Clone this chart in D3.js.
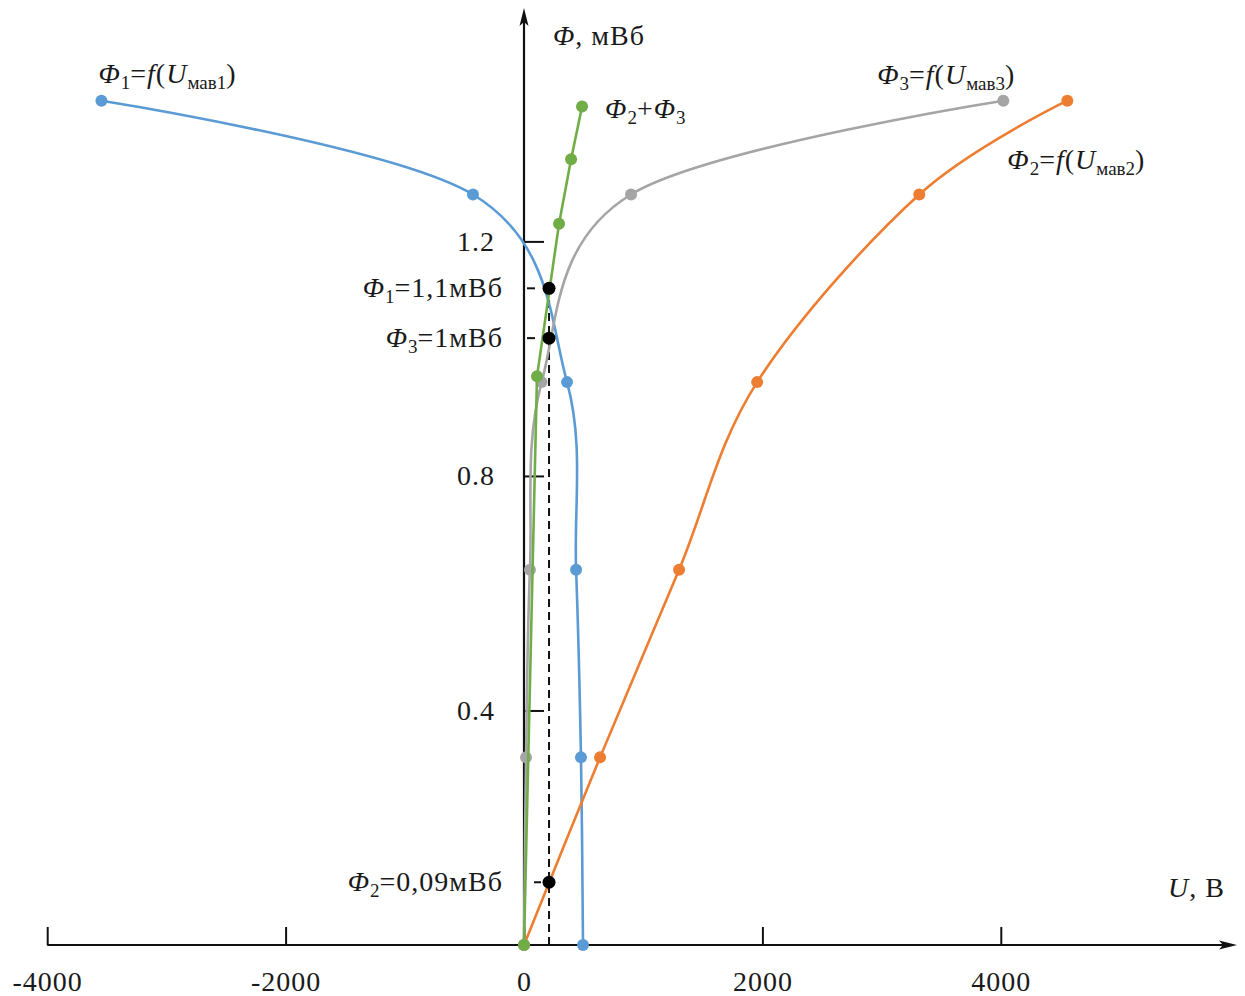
<!DOCTYPE html>
<html>
<head>
<meta charset="utf-8">
<script src="https://cdn.jsdelivr.net/npm/d3@7"></script>
<style>
  body { margin: 0; background: #fff; }
  svg text { font-family: "Liberation Serif", "Times New Roman", serif; fill: #1a1a1a; letter-spacing: 1px; }
</style>
</head>
<body>
<div id="chart"></div>
<script>
// axis ticks
const uTicks = [-4000, -2000, 0, 2000, 4000];
const phiTicks = [0.4, 0.8, 1.2];

// Φ1 = f(Uмав1)
const phi1U = [-3545, -428, 361, 437, 478, 495];
const phi1F = [1.44, 1.28, 0.96, 0.64, 0.32, 0];
// Φ2 = f(Uмав2)
const phi2U = [0, 638, 1301, 1956, 3316, 4558];
const phi2F = [0, 0.32, 0.64, 0.96, 1.28, 1.44];
// Φ3 = f(Uмав3)
const phi3U = [0, 17, 50, 148, 898, 4021];
const phi3F = [0, 0.32, 0.64, 0.96, 1.28, 1.44];
// Φ2 + Φ3
const sumU = [0, 109, 294, 395, 487];
const sumF = [0, 0.97, 1.23, 1.34, 1.43];

// working point
const workU = 210;
const workF = [1.12, 1.035, 0.107];
const workLabels = [
  [["Φ", "i"], ["1", "s"], ["=1,1мВб", ""]],
  [["Φ", "i"], ["3", "s"], ["=1мВб", ""]],
  [["Φ", "i"], ["2", "s"], ["=0,09мВб", ""]]
];

const W = 1245, H = 996;
const FS = 28;
const svg = d3.select("#chart").append("svg")
    .attr("width", W)
    .attr("height", H);

svg.append("rect").attr("width", W).attr("height", H).attr("fill", "#fff");

const x = d3.scaleLinear().domain([-4000, 4000]).range([47.2, 1000.8]);
const y = d3.scaleLinear().domain([0, 1.2]).range([945, 241.4]);

const x0 = x(0), y0 = y(0);

// write a label made of italic / subscript pieces
function richText(px, py, parts, anchor) {
    let t = svg.append("text")
        .attr("x", px)
        .attr("y", py)
        .attr("font-size", FS)
        .attr("text-anchor", anchor || "start");
    let down = false;
    parts.forEach(p => {
        let s = t.append("tspan").text(p[0]);
        if (p[1].includes("i")) s.attr("font-style", "italic");
        if (p[1].includes("s")) {
            s.attr("font-size", 19).style("letter-spacing", "0px");
            if (!down) { s.attr("dy", 6); down = true; }
        } else if (down) {
            s.attr("dy", -6); down = false;
        }
    });
    return t;
}

// axes
svg.append("g")
    .attr("transform", "translate(0," + y0 + ")")
    .call(d3.axisBottom(x).tickValues(uTicks).tickSizeInner(-18).tickSizeOuter(0)
        .tickPadding(26).tickFormat(d => String(d)))
    .call(g => g.select(".domain").remove())
    .call(g => g.selectAll(".tick line").attr("stroke", "#111").attr("stroke-width", 2))
    .call(g => g.selectAll(".tick text").attr("font-size", FS)
        .attr("font-family", "Liberation Serif").attr("fill", "#1a1a1a"));

svg.append("g")
    .attr("transform", "translate(" + x0 + ",0)")
    .call(d3.axisLeft(y).tickValues(phiTicks).tickSizeInner(-20).tickSizeOuter(0)
        .tickPadding(29).tickFormat(d3.format(".1f")))
    .call(g => g.select(".domain").remove())
    .call(g => g.selectAll(".tick line").attr("stroke", "#111").attr("stroke-width", 2))
    .call(g => g.selectAll(".tick text").attr("font-size", FS)
        .attr("font-family", "Liberation Serif").attr("fill", "#1a1a1a"));

// axis lines with arrows
const xEnd = 1237, yTop = 8;
svg.append("line").attr("x1", x(-4000)).attr("x2", xEnd - 10)
    .attr("y1", y0).attr("y2", y0).attr("stroke", "#111").attr("stroke-width", 2.2);
svg.append("path")
    .attr("d", `M${xEnd},${y0} L${xEnd - 18},${y0 - 4.5} L${xEnd - 14},${y0} L${xEnd - 18},${y0 + 4.5} Z`)
    .attr("fill", "#111");
svg.append("line").attr("x1", x0).attr("x2", x0)
    .attr("y1", y0).attr("y2", yTop + 10).attr("stroke", "#111").attr("stroke-width", 2.2);
svg.append("path")
    .attr("d", `M${x0},${yTop} L${x0 - 4.5},${yTop + 18} L${x0},${yTop + 14} L${x0 + 4.5},${yTop + 18} Z`)
    .attr("fill", "#111");

// axis titles
richText(x0 + 29, 45, [["Φ", "i"], [", мВб", ""]]);
richText(1168, 897, [["U", "i"], [", В", ""]]);

// dashed line of the working point
svg.append("line")
    .attr("x1", x(workU)).attr("x2", x(workU))
    .attr("y1", y(0)).attr("y2", y(workF[0]))
    .attr("stroke", "#111").attr("stroke-width", 2)
    .attr("stroke-dasharray", "8,5");

// series
const series = [
    {u: phi1U, f: phi1F, color: "#5B9BD5", curve: d3.curveCatmullRom.alpha(0)},
    {u: phi2U, f: phi2F, color: "#ED7D31", curve: d3.curveCatmullRom.alpha(0)},
    {u: phi3U, f: phi3F, color: "#A5A5A5", curve: d3.curveCatmullRom.alpha(0)},
    {u: sumU, f: sumF, color: "#70AD47", curve: d3.curveLinear}
];

series.forEach(s => {
    const pts = s.u.map((u, i) => [u, s.f[i]]);
    const line = d3.line().x(d => x(d[0])).y(d => y(d[1])).curve(s.curve);
    svg.append("path")
        .datum(pts)
        .attr("d", line)
        .attr("fill", "none")
        .attr("stroke", s.color)
        .attr("stroke-width", 2.6);
    svg.selectAll(null)
        .data(pts)
        .enter()
        .append("circle")
        .attr("cx", d => x(d[0]))
        .attr("cy", d => y(d[1]))
        .attr("r", 6)
        .attr("fill", s.color);
});

// working point marks and labels
workF.forEach((f, i) => {
    svg.append("line")
        .attr("x1", x0 + (i == 2 ? 10 : 3)).attr("x2", x0 + (i == 2 ? 17 : 11))
        .attr("y1", y(f)).attr("y2", y(f))
        .attr("stroke", "#111").attr("stroke-width", 2);
    svg.append("circle")
        .attr("cx", x(workU)).attr("cy", y(f))
        .attr("r", 6.5).attr("fill", "#000");
    richText(x0 - 21, y(f) + 9, workLabels[i], "end");
});

// series labels
richText(x(phi1U[0]) - 3, y(phi1F[0]) - 18,
    [["Φ", "i"], ["1", "s"], ["=", ""], ["f", "i"], ["(", ""], ["U", "i"], ["мав1", "s"], [")", ""]]);
richText(x(phi3U[5]) + 12, y(phi3F[5]) - 17,
    [["Φ", "i"], ["3", "s"], ["=", ""], ["f", "i"], ["(", ""], ["U", "i"], ["мав3", "s"], [")", ""]], "end");
richText(x(phi2U[5]) - 60, y(phi2F[5]) + 68,
    [["Φ", "i"], ["2", "s"], ["=", ""], ["f", "i"], ["(", ""], ["U", "i"], ["мав2", "s"], [")", ""]]);
richText(x(sumU[4]) + 23, y(sumF[4]) + 11,
    [["Φ", "i"], ["2", "s"], ["+", ""], ["Φ", "i"], ["3", "s"]]);
</script>
</body>
</html>
